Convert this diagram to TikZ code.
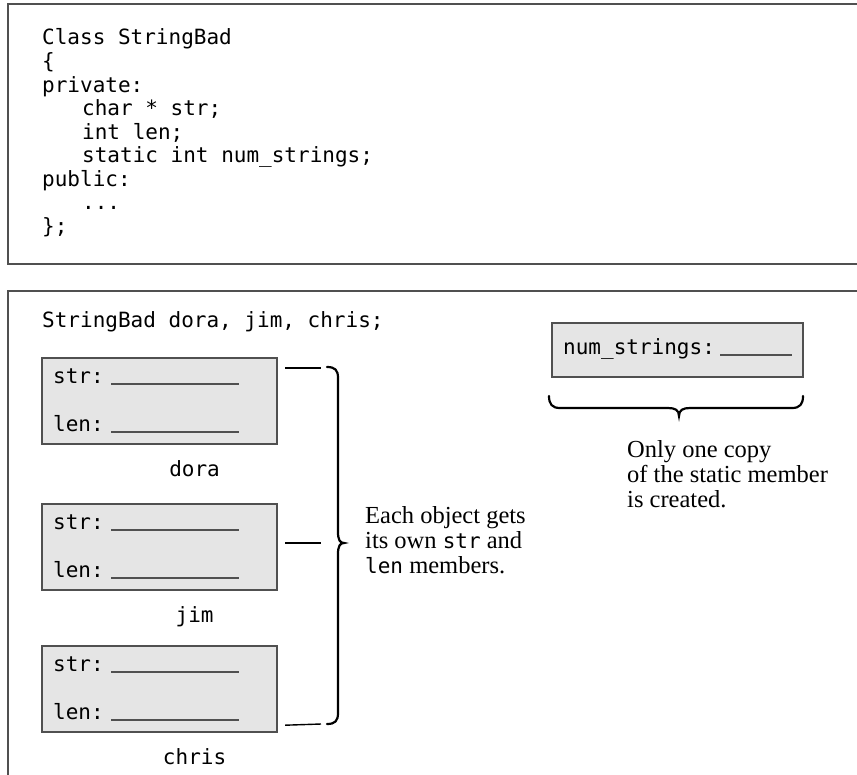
\documentclass[tikz,border=0pt]{standalone}
\usepackage{fontspec}
\setmainfont{Liberation Serif}
\setmonofont{DejaVu Sans Mono}
\usetikzlibrary{calc}
\definecolor{framegray}{RGB}{80,80,80}
\definecolor{boxgray}{RGB}{229,229,229}
\newcommand\codefont{\fontsize{21bp}{23.5bp}\selectfont\ttfamily}
\newcommand\notefont{\fontsize{24.5bp}{25bp}\selectfont\rmfamily}
\newcommand\mon[1]{{\fontsize{21bp}{25bp}\selectfont\ttfamily #1}}
\tikzset{
  frame/.style={draw=framegray, line width=2.8bp},
  code/.style={font=\codefont, anchor=base west, inner sep=0pt},
  note/.style={font=\notefont, anchor=base west, inner sep=0pt},
  objbox/.style={draw=framegray, fill=boxgray, line width=2.2bp, minimum width=235bp,
                 minimum height=86bp, anchor=north west, inner sep=0pt},
  blank/.style={draw=framegray, line width=2bp},
  tick/.style={draw=black, line width=1.4bp},
  bracepath/.style={draw=black, line width=2.2bp, line cap=round}
}
\begin{document}
\begin{tikzpicture}[x=1bp,y=-1bp]
\useasboundingbox (0,0) rectangle (857,775);
% frames
\draw[frame] (870,4) -- (8,4) -- (8,264) -- (870,264);
\draw[frame] (870,291) -- (8,291) -- (8,790);
% class code
\node[code] (c1) at (42,45) {Class StringBad};
\node[code] (c2) at (42,68.5) {\{};
\node[code] (c3) at (42,92) {private:};
\node[code] (c4) at (82,115.5) {char * str;};
\node[code] (c5) at (82,139) {int len;};
\node[code] (c6) at (82,162.5) {static int num\_strings;};
\node[code] (c7) at (42,186) {public:};
\node[code] (c8) at (82,209.5) {...};
\node[code] (c9) at (42,233) {\};};
% declaration
\node[code] (decl) at (42,327) {StringBad dora, jim, chris;};
% objects
\foreach \nm/\top in {dora/357, jim/503, chris/645}{
  \node[objbox] (\nm) at (41,\top) {};
  \node[code] (\nm str) at ($(\nm.north west)+(12,26)$) {str:};
  \node[code] (\nm len) at ($(\nm.north west)+(12,74)$) {len:};
  \draw[blank] ($(\nm.north west)+(70,26.5)$) -- ++(128,0);
  \draw[blank] ($(\nm.north west)+(70,74.5)$) -- ++(128,0);
  \node[code, anchor=base] (\nm lab) at ($(\nm.south)+(35,31)$) {\nm};
}
% ticks to the brace
\coordinate (t1) at (321,368);
\coordinate (t2) at (321,543);
\coordinate (t3) at (321,724);
\draw[tick] ($(dora.north east)+(7,11)$) -- (t1);
\draw[tick] (t2 -| jim.east) ++(7,0) -- (t2);
\draw[tick] ($(chris.south east)+(7,-8)$) -- (t3);
% vertical brace
\draw[bracepath] (327,367) .. controls (335,367) and (338,370) .. (338,378)
  -- (338,532) .. controls (338,540) and (340,543) .. (344,543)
  .. controls (340,543) and (338,546) .. (338,554)
  -- (338,713) .. controls (338,721) and (335,724) .. (327,724);
\node[note] (each1) at (365,523) {Each object gets};
\node[note] (each2) at (365,548) {its own \mon{str} and};
\node[note] (each3) at (365,573) {\mon{len} members.};
% static member
\node[draw=framegray, fill=boxgray, line width=2.2bp, minimum width=251bp,
      minimum height=54bp, anchor=north west, inner sep=0pt] (num) at (551,322) {};
\node[code] (numtxt) at (563,354) {num\_strings:};
\draw[blank] (720,355) -- (792,355);
% horizontal brace
\draw[bracepath] (549,396) .. controls (549,404) and (552,408) .. (560,408)
  -- (668,408) .. controls (675,408) and (679,410) .. (679,416)
  .. controls (679,410) and (683,408) .. (690,408)
  -- (792,408) .. controls (800,408) and (803,404) .. (803,396);
\node[note] (only1) at (627,457) {Only one copy};
\node[note] (only2) at (627,482) {of the static member};
\node[note] (only3) at (627,507) {is created.};
\end{tikzpicture}
\end{document}
